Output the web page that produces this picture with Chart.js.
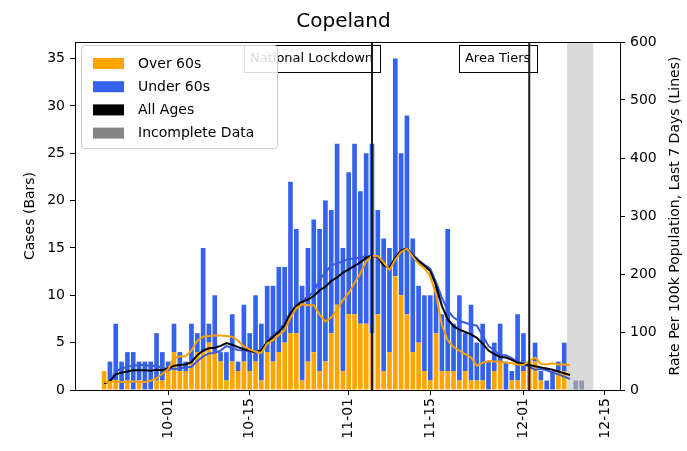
<!DOCTYPE html>
<html>
<head>
<meta charset="utf-8">
<script src="https://cdn.jsdelivr.net/npm/chart.js@4"></script>
<style>
  html, body { margin: 0; padding: 0; background: #fff; }
</style>
</head>
<body>
<canvas id="chart" width="687" height="451"></canvas>
<script>
// daily cases, stacked bars, from 20 Sept 2020
const FIRST_DAY = "2020-09-20";
const OVER_60 = [
  2, 1, 1, 0, 1, 0, 1, 0, 0, 1, 1,
  2, 4, 2, 2, 3, 4, 4, 5, 4, 3,
  1, 3, 2, 3, 2, 3, 1, 4, 3, 4,
  5, 6, 6, 1, 3, 4, 2, 3, 6, 9, 2,
  8, 8, 7, 7, 6, 8, 2, 4, 12, 10,
  8, 4, 5, 2, 1, 6, 2, 2, 2, 1,
  2, 1, 1, 1, 0, 2, 3, 0, 1, 1,
  2, 3, 3, 1, 0, 0, 2, 2, 0
];
const UNDER_60 = [
  0, 2, 6, 3, 3, 4, 2, 3, 3, 5, 3,
  1, 3, 2, 1, 4, 2, 11, 2, 6, 1,
  3, 5, 1, 6, 4, 7, 6, 7, 8, 9,
  8, 16, 11, 10, 12, 14, 15, 17, 13, 17, 13,
  15, 18, 14, 18, 20, 11, 14, 11, 23, 15,
  21, 12, 6, 8, 9, 5, 6, 15, 5, 9,
  4, 8, 4, 6, 3, 3, 4, 3, 1, 7,
  4, 0, 2, 1, 1, 2, 1, 3, 0
];
const INCOMPLETE_FIRST_DAY = "2020-12-10";
const INCOMPLETE = [1, 1];

// 7 day rate per 100k (right axis), same start day
const RATE_ALL = [
  12, 15, 27, 30, 32, 34, 34, 34, 33, 35, 34,
  37, 42, 43, 44, 48, 60, 68, 72, 73, 76,
  81, 78, 74, 70, 68, 65, 68, 82, 92, 100,
  112, 132, 145, 152, 156, 162, 172, 178, 188, 194, 202,
  208, 214, 220, 228, 231, 230, 215, 210, 228, 240,
  244, 232, 222, 214, 205, 180, 145, 122, 110, 104,
  100, 96, 90, 80, 68, 62, 57, 56, 52, 47,
  45, 43, 41, 39, 37, 35, 32, 29, 26
];
const RATE_OVER_60 = [
  14, 14, 15, 14, 14, 15, 14, 14, 16, 20, 28,
  36, 55, 58, 58, 68, 85, 92, 93, 94, 94,
  93, 92, 85, 75, 70, 66, 64, 80, 86, 95,
  103, 125, 141, 148, 146, 146, 130, 118, 125, 138, 155,
  167, 185, 201, 222, 231, 231, 220, 207, 225, 238,
  244, 230, 218, 210, 196, 165, 112, 86, 74, 68,
  62, 56, 42, 47, 50, 49, 49, 47, 46, 44,
  43, 50, 56, 45, 44, 46, 44, 44, 43
];
const RATE_UNDER_60 = [
  11, 15, 32, 37, 40, 42, 43, 43, 41, 42, 37,
  37, 36, 37, 39, 40, 50, 58, 63, 64, 68,
  76, 72, 69, 68, 67, 64, 70, 83, 95, 102,
  116, 135, 147, 154, 161, 169, 190, 203, 215, 218, 222,
  226, 227, 228, 231, 231, 230, 213, 211, 229, 241,
  244, 233, 224, 216, 209, 186, 159, 137, 125, 119,
  116, 113, 111, 94, 76, 68, 60, 60, 55, 48,
  46, 40, 35, 36, 34, 30, 27, 23, 19
];

const X_TICKS = ["10-01", "10-15", "11-01", "11-15", "12-01", "12-15"];
const Y_TICKS = [0, 5, 10, 15, 20, 25, 30, 35];
const Y2_TICKS = [0, 100, 200, 300, 400, 500, 600];
const EVENTS = [
  { date: "2020-11-05", label: "National Lockdown" },
  { date: "2020-12-02", label: "Area Tiers" }
];
const INCOMPLETE_SPAN = ["2020-12-08T12:00", "2020-12-13T00:00"];
const X_RANGE = ["2020-09-15T00:00", "2020-12-17T14:00"];

const ORANGE = "#ffa500";
const BLUE = "#3462ec";
const GREY_BAR = "#9097b4";
const FONT = "'DejaVu Sans', sans-serif";

const ORIGIN = Date.UTC(2020, 9, 1);
function day(s) {
  return (Date.parse(s.length > 10 ? s + "Z" : s + "T00:00Z") - ORIGIN) / 864e5;
}
function series(first, values) {
  const d0 = day(first);
  return values.map((v, i) => ({ x: d0 + i, y: v }));
}

Chart.defaults.font.family = FONT;
Chart.defaults.font.size = 14;
Chart.defaults.color = "#000";

const legendItems = [
  { label: "Over 60s", color: ORANGE },
  { label: "Under 60s", color: BLUE },
  { label: "All Ages", color: "#000" },
  { label: "Incomplete Data", color: "#858585" }
];

const extras = {
  id: "extras",
  beforeDatasetsDraw(chart) {
    const { ctx, chartArea: a, scales: { x } } = chart;
    const x0 = x.getPixelForValue(day(INCOMPLETE_SPAN[0]));
    const x1 = x.getPixelForValue(day(INCOMPLETE_SPAN[1]));
    ctx.save();
    ctx.fillStyle = "rgba(150,150,150,0.35)";
    ctx.fillRect(x0, a.top, x1 - x0, a.bottom - a.top);
    ctx.restore();
  },
  afterDatasetsDraw(chart) {
    const { ctx, chartArea: a, scales: { x } } = chart;
    ctx.save();
    ctx.font = "13px " + FONT;
    EVENTS.forEach(ev => {
      const px = x.getPixelForValue(day(ev.date));
      const w = ctx.measureText(ev.label).width;
      const right = px + 1;
      ctx.fillStyle = "#fff";
      ctx.fillRect(right - w - 6, 45, w + 13, 28);
      ctx.strokeStyle = "#000";
      ctx.lineWidth = 1;
      ctx.strokeRect(Math.round(right - w - 6) + 0.5, 45.5, Math.round(w + 13), 27);
      ctx.fillStyle = "#000";
      ctx.textAlign = "right";
      ctx.textBaseline = "middle";
      ctx.fillText(ev.label, right, 59);
      ctx.strokeStyle = "#1a1a1a";
      ctx.lineWidth = 2;
      ctx.beginPath();
      ctx.moveTo(px, a.top);
      ctx.lineTo(px, a.bottom);
      ctx.stroke();
    });
    // frame top
    ctx.strokeStyle = "#000";
    ctx.lineWidth = 1;
    ctx.beginPath();
    ctx.moveTo(a.left, a.top + 0.5);
    ctx.lineTo(a.right, a.top + 0.5);
    ctx.stroke();
    ctx.restore();
  },
  afterDraw(chart) {
    const { ctx, chartArea: a } = chart;
    ctx.save();
    // legend
    ctx.fillStyle = "rgba(255,255,255,0.85)";
    ctx.strokeStyle = "#cccccc";
    ctx.lineWidth = 1;
    ctx.beginPath();
    ctx.roundRect(81.5, 45.5, 196, 103, 3);
    ctx.fill();
    ctx.stroke();
    ctx.font = "14px " + FONT;
    ctx.textAlign = "left";
    ctx.textBaseline = "middle";
    legendItems.forEach((it, i) => {
      const cy = 64 + i * 23.2;
      ctx.fillStyle = it.color;
      ctx.fillRect(93, cy - 6, 31, 11);
      ctx.fillStyle = "#000";
      ctx.fillText(it.label, 138, cy);
    });
    // right axis title, reads bottom to top
    ctx.translate(675, (a.top + a.bottom) / 2);
    ctx.rotate(-Math.PI / 2);
    ctx.textAlign = "center";
    ctx.fillText("Rate Per 100k Population, Last 7 Days (Lines)", 0, 0);
    ctx.restore();
  }
};

const tickGrid = { drawOnChartArea: false, drawTicks: true, tickLength: 5, color: "#000", lineWidth: 1, offset: false };

new Chart(document.getElementById("chart"), {
  type: "bar",
  data: {
    datasets: [
      { type: "bar", label: "Over 60s", data: series(FIRST_DAY, OVER_60), backgroundColor: ORANGE,
        yAxisID: "y", stack: "cases", order: 5, categoryPercentage: 1, barPercentage: 0.8 },
      { type: "bar", label: "Under 60s", data: series(FIRST_DAY, UNDER_60), backgroundColor: BLUE,
        yAxisID: "y", stack: "cases", order: 5, categoryPercentage: 1, barPercentage: 0.8 },
      { type: "bar", label: "Incomplete Data", data: series(INCOMPLETE_FIRST_DAY, INCOMPLETE), backgroundColor: GREY_BAR,
        yAxisID: "y", stack: "cases", order: 5, categoryPercentage: 1, barPercentage: 0.8 },
      { type: "line", label: "Under 60s rate", data: series(FIRST_DAY, RATE_UNDER_60), yAxisID: "y2",
        borderColor: "#3a5ad8", borderWidth: 2, pointRadius: 0, tension: 0, order: 3 },
      { type: "line", label: "All Ages rate", data: series(FIRST_DAY, RATE_ALL), yAxisID: "y2",
        borderColor: "#000", borderWidth: 2, pointRadius: 0, tension: 0, order: 2 },
      { type: "line", label: "Over 60s rate", data: series(FIRST_DAY, RATE_OVER_60), yAxisID: "y2",
        borderColor: "#f5a000", borderWidth: 2, pointRadius: 0, tension: 0, order: 1 }
    ]
  },
  options: {
    responsive: false,
    animation: false,
    events: [],
    layout: { padding: 0 },
    plugins: {
      legend: { display: false },
      tooltip: { enabled: false },
      title: {
        display: true,
        text: "Copeland",
        color: "#000",
        font: { size: 20, weight: "normal" },
        padding: { top: 10, bottom: 8 }
      }
    },
    scales: {
      x: {
        type: "linear",
        offset: false,
        stacked: true,
        min: day(X_RANGE[0]),
        max: day(X_RANGE[1]),
        grid: tickGrid,
        border: { display: true, color: "#000", width: 1 },
        afterBuildTicks: s => { s.ticks = X_TICKS.map(t => ({ value: day("2020-" + t) })); },
        afterFit: s => { s.height = 61; },
        ticks: {
          autoSkip: false,
          minRotation: 90,
          maxRotation: 90,
          padding: 3,
          callback: (v, i) => X_TICKS[i]
        }
      },
      y: {
        position: "left",
        stacked: true,
        min: 0,
        max: 36.75,
        grid: tickGrid,
        border: { display: true, color: "#000", width: 1 },
        afterBuildTicks: s => { s.ticks = Y_TICKS.map(v => ({ value: v })); },
        afterFit: s => { s.width = 75; },
        ticks: { padding: 5 },
        title: { display: true, text: "Cases (Bars)", font: { size: 14 }, padding: { top: 22, bottom: 0 } }
      },
      y2: {
        position: "right",
        min: 0,
        max: 600,
        grid: tickGrid,
        border: { display: true, color: "#000", width: 1 },
        afterBuildTicks: s => { s.ticks = Y2_TICKS.map(v => ({ value: v })); },
        afterFit: s => { s.width = 67; },
        ticks: { padding: 5 }
      }
    }
  },
  plugins: [extras]
});
</script>
</body>
</html>
